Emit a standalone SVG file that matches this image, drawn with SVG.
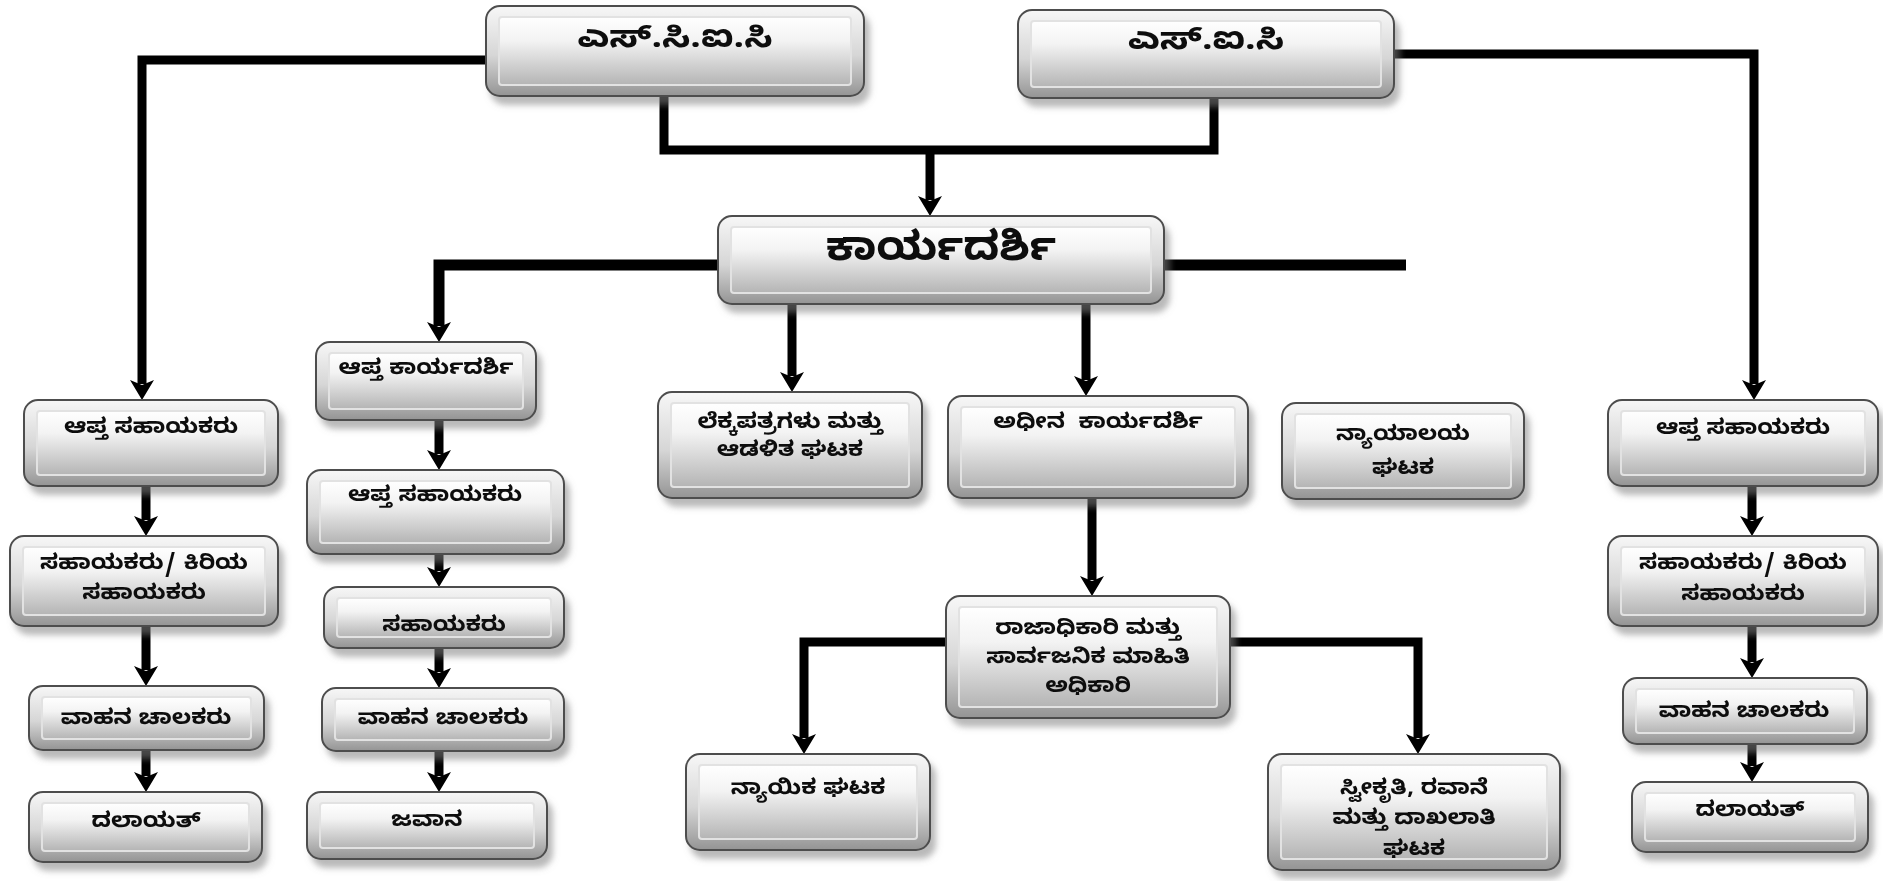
<svg xmlns="http://www.w3.org/2000/svg" width="1883" height="881" viewBox="0 0 1883 881">
<defs>
<linearGradient id="gOuter" x1="0" y1="0" x2="0" y2="1">
<stop offset="0" stop-color="#f7f7f7"/>
<stop offset="0.55" stop-color="#d6d6d6"/>
<stop offset="1" stop-color="#949494"/>
</linearGradient>
<linearGradient id="gInner" x1="0" y1="0" x2="0" y2="1">
<stop offset="0" stop-color="#ffffff"/>
<stop offset="0.35" stop-color="#f3f3f3"/>
<stop offset="1" stop-color="#b4b4b4"/>
</linearGradient>
<filter id="sh" x="-10%" y="-10%" width="125%" height="135%">
<feDropShadow dx="5" dy="8" stdDeviation="3" flood-color="#808080" flood-opacity="0.55"/>
</filter>
<marker id="ah" viewBox="0 -12 20 24" refX="4" refY="0" markerWidth="20" markerHeight="24" markerUnits="userSpaceOnUse" orient="auto">
<path d="M0,-12 L20,0 L0,12 L5,0 z" fill="#000"/>
</marker>
</defs>
<style>
.o{fill:url(#gOuter);stroke:#4d4d4d;stroke-width:2}
.i{fill:url(#gInner);stroke:#e2e2e2;stroke-width:2}
.n{filter:url(#sh)}
.t{font-family:"Noto Sans Kannada","Noto Sans","Liberation Sans",sans-serif;font-weight:bold;fill:#111;text-anchor:middle}
.s{font-size:21px}
.m{font-size:31px}
.l{font-size:40px}
.c{fill:none;stroke:#000;stroke-width:9}
.a{marker-end:url(#ah)}
</style>
<rect width="1883" height="881" fill="#fff"/>
<g id="connectors">
<path class="c a" d="M486,60 H142 V384"/>
<path class="c" d="M664,96 V150 H1214 V98"/>
<path class="c a" d="M930,150 V200"/>
<path class="c a" d="M1394,54 H1754 V384"/>
<path class="c a" d="M718,265 H439 V326" style="stroke-width:11"/>
<path class="c" d="M1164,265 H1406" style="stroke-width:11"/>
<path class="c a" d="M792,304 V376"/>
<path class="c a" d="M1086,304 V380"/>
<path class="c a" d="M146,486 V520"/>
<path class="c a" d="M146,626 V670"/>
<path class="c a" d="M146,750 V776"/>
<path class="c a" d="M439,420 V454"/>
<path class="c a" d="M439,554 V571"/>
<path class="c a" d="M439,648 V672"/>
<path class="c a" d="M439,751 V776"/>
<path class="c a" d="M1092,498 V580"/>
<path class="c a" d="M946,642 H804 V738"/>
<path class="c a" d="M1230,642 H1418 V738"/>
<path class="c a" d="M1752,486 V520"/>
<path class="c a" d="M1752,626 V662"/>
<path class="c a" d="M1752,744 V766"/>
</g>
<g id="scic" class="n"><rect class="o" x="486" y="6" width="378" height="90" rx="14"/><rect class="i" x="499" y="17" width="352" height="68" rx="3"/><g transform="matrix(1.2,0,0,1,-135,0)"><text class="t m" x="675" y="47">ಎಸ್.ಸಿ.ಐ.ಸಿ</text></g></g>
<g id="sic" class="n"><rect class="o" x="1018" y="10" width="376" height="88" rx="14"/><rect class="i" x="1031" y="21" width="350" height="66" rx="3"/><g transform="matrix(1.2,0,0,1,-241.2,0)"><text class="t m" x="1206" y="49">ಎಸ್.ಐ.ಸಿ</text></g></g>
<g id="karyadarshi" class="n"><rect class="o" x="718" y="216" width="446" height="88" rx="14"/><rect class="i" x="731" y="227" width="420" height="66" rx="3"/><g transform="matrix(1.1,0,0,1,-94.1,0)"><text class="t l" x="941" y="260">ಕಾರ್ಯದರ್ಶಿ</text></g></g>
<g id="l-aptha-sahayakaru" class="n"><rect class="o" x="24" y="400" width="254" height="86" rx="14"/><rect class="i" x="37" y="411" width="228" height="64" rx="3"/><g transform="matrix(1.13,0,0,1,-19.63,0)"><text class="t s" x="151" y="433">ಆಪ್ತ ಸಹಾಯಕರು</text></g></g>
<g id="l-sahayakaru-kiriya" class="n"><rect class="o" x="10" y="536" width="268" height="90" rx="14"/><rect class="i" x="23" y="547" width="242" height="68" rx="3"/><g transform="matrix(1.13,0,0,1,-18.72,0)"><text class="t s" x="144" y="569">ಸಹಾಯಕರು/ ಕಿರಿಯ</text><text class="t s" x="144" y="599">ಸಹಾಯಕರು</text></g></g>
<g id="l-vahana" class="n"><rect class="o" x="29" y="686" width="235" height="64" rx="14"/><rect class="i" x="42" y="697" width="209" height="42" rx="3"/><g transform="matrix(1.13,0,0,1,-18.98,0)"><text class="t s" x="146" y="724">ವಾಹನ ಚಾಲಕರು</text></g></g>
<g id="l-dalayat" class="n"><rect class="o" x="29" y="792" width="233" height="70" rx="14"/><rect class="i" x="42" y="803" width="207" height="48" rx="3"/><g transform="matrix(1.13,0,0,1,-18.98,0)"><text class="t s" x="146" y="827">ದಲಾಯತ್</text></g></g>
<g id="aptha-karyadarshi" class="n"><rect class="o" x="316" y="342" width="220" height="78" rx="14"/><rect class="i" x="329" y="353" width="194" height="56" rx="3"/><g transform="matrix(1.13,0,0,1,-55.38,0)"><text class="t s" x="426" y="374">ಆಪ್ತ ಕಾರ್ಯದರ್ಶಿ</text></g></g>
<g id="c2-aptha-sahayakaru" class="n"><rect class="o" x="307" y="470" width="257" height="84" rx="14"/><rect class="i" x="320" y="481" width="231" height="62" rx="3"/><g transform="matrix(1.13,0,0,1,-56.55,0)"><text class="t s" x="435" y="501">ಆಪ್ತ ಸಹಾಯಕರು</text></g></g>
<g id="c2-sahayakaru" class="n"><rect class="o" x="324" y="587" width="240" height="61" rx="14"/><rect class="i" x="337" y="598" width="214" height="39" rx="3"/><g transform="matrix(1.13,0,0,1,-57.72,0)"><text class="t s" x="444" y="631">ಸಹಾಯಕರು</text></g></g>
<g id="c2-vahana" class="n"><rect class="o" x="322" y="688" width="242" height="63" rx="14"/><rect class="i" x="335" y="699" width="216" height="41" rx="3"/><g transform="matrix(1.13,0,0,1,-57.59,0)"><text class="t s" x="443" y="724">ವಾಹನ ಚಾಲಕರು</text></g></g>
<g id="javana" class="n"><rect class="o" x="307" y="792" width="240" height="67" rx="14"/><rect class="i" x="320" y="803" width="214" height="45" rx="3"/><g transform="matrix(1.13,0,0,1,-55.51,0)"><text class="t s" x="427" y="826">ಜವಾನ</text></g></g>
<g id="lekkapatra" class="n"><rect class="o" x="658" y="392" width="264" height="106" rx="14"/><rect class="i" x="671" y="403" width="238" height="84" rx="3"/><g transform="matrix(1.13,0,0,1,-102.7,0)"><text class="t s" x="790" y="428">ಲೆಕ್ಕಪತ್ರಗಳು ಮತ್ತು</text><text class="t s" x="790" y="456">ಆಡಳಿತ ಘಟಕ</text></g></g>
<g id="adheena" class="n"><rect class="o" x="948" y="396" width="300" height="102" rx="14"/><rect class="i" x="961" y="407" width="274" height="80" rx="3"/><g transform="matrix(1.13,0,0,1,-142.74,0)"><text class="t s" x="1098" y="428" style="white-space:pre">ಅಧೀನ  ಕಾರ್ಯದರ್ಶಿ</text></g></g>
<g id="nyayalaya" class="n"><rect class="o" x="1282" y="403" width="242" height="96" rx="14"/><rect class="i" x="1295" y="414" width="216" height="74" rx="3"/><g transform="matrix(1.13,0,0,1,-182.39,0)"><text class="t s" x="1403" y="440">ನ್ಯಾಯಾಲಯ</text><text class="t s" x="1403" y="474">ಘಟಕ</text></g></g>
<g id="r-aptha-sahayakaru" class="n"><rect class="o" x="1608" y="400" width="270" height="86" rx="14"/><rect class="i" x="1621" y="411" width="244" height="64" rx="3"/><g transform="matrix(1.13,0,0,1,-226.59,0)"><text class="t s" x="1743" y="434">ಆಪ್ತ ಸಹಾಯಕರು</text></g></g>
<g id="r-sahayakaru-kiriya" class="n"><rect class="o" x="1608" y="536" width="270" height="90" rx="14"/><rect class="i" x="1621" y="547" width="244" height="68" rx="3"/><g transform="matrix(1.13,0,0,1,-226.59,0)"><text class="t s" x="1743" y="569">ಸಹಾಯಕರು/ ಕಿರಿಯ</text><text class="t s" x="1743" y="600">ಸಹಾಯಕರು</text></g></g>
<g id="r-vahana" class="n"><rect class="o" x="1623" y="678" width="244" height="66" rx="14"/><rect class="i" x="1636" y="689" width="218" height="44" rx="3"/><g transform="matrix(1.13,0,0,1,-226.72,0)"><text class="t s" x="1744" y="717">ವಾಹನ ಚಾಲಕರು</text></g></g>
<g id="r-dalayat" class="n"><rect class="o" x="1632" y="782" width="236" height="70" rx="14"/><rect class="i" x="1645" y="793" width="210" height="48" rx="3"/><g transform="matrix(1.13,0,0,1,-227.5,0)"><text class="t s" x="1750" y="816">ದಲಾಯತ್</text></g></g>
<g id="rajadhikari" class="n"><rect class="o" x="946" y="596" width="284" height="122" rx="14"/><rect class="i" x="959" y="607" width="258" height="100" rx="3"/><g transform="matrix(1.13,0,0,1,-141.44,0)"><text class="t s" x="1088" y="634">ರಾಜಾಧಿಕಾರಿ ಮತ್ತು</text><text class="t s" x="1088" y="663">ಸಾರ್ವಜನಿಕ ಮಾಹಿತಿ</text><text class="t s" x="1088" y="692">ಅಧಿಕಾರಿ</text></g></g>
<g id="nyayika" class="n"><rect class="o" x="686" y="754" width="244" height="96" rx="14"/><rect class="i" x="699" y="765" width="218" height="74" rx="3"/><g transform="matrix(1.13,0,0,1,-105.04,0)"><text class="t s" x="808" y="794">ನ್ಯಾಯಿಕ ಘಟಕ</text></g></g>
<g id="sweekruti" class="n"><rect class="o" x="1268" y="754" width="292" height="116" rx="14"/><rect class="i" x="1281" y="765" width="266" height="94" rx="3"/><g transform="matrix(1.13,0,0,1,-183.82,0)"><text class="t s" x="1414" y="794">ಸ್ವೀಕೃತಿ, ರವಾನೆ</text><text class="t s" x="1414" y="824">ಮತ್ತು ದಾಖಲಾತಿ</text><text class="t s" x="1414" y="855">ಘಟಕ</text></g></g>
</svg>
